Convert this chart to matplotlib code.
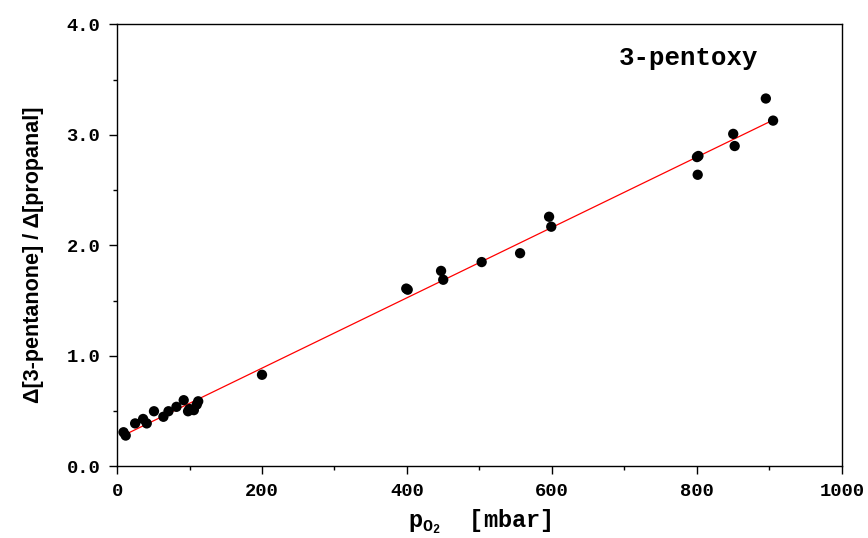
import matplotlib.pyplot as plt
from matplotlib.ticker import MultipleLocator, FormatStrFormatter

plt.rcParams['mathtext.fontset'] = 'custom'
plt.rcParams['mathtext.rm'] = 'Liberation Mono'
plt.rcParams['mathtext.bf'] = 'Liberation Mono:bold'

# measured points: O2 pressure [mbar] vs product ratio
p_o2 = [9, 12, 25, 36, 41, 51, 64, 71, 82, 92, 98, 100, 106, 110, 112,
        200, 399, 401, 447, 450, 503, 556, 596, 599, 800, 802, 801,
        850, 852, 895, 905]
ratio = [0.31, 0.28, 0.39, 0.43, 0.39, 0.50, 0.45, 0.50, 0.54, 0.60, 0.50, 0.52, 0.51, 0.56, 0.59,
         0.83, 1.61, 1.60, 1.77, 1.69, 1.85, 1.93, 2.26, 2.17, 2.80, 2.81, 2.64,
         3.01, 2.90, 3.33, 3.13]

# linear fit endpoints
fit_x = [10, 905]
fit_y = [0.285, 3.135]

fig = plt.figure(figsize=(8.68, 5.38), dpi=100)
ax = fig.add_axes([0.1348, 0.1329, 0.8352, 0.8216])

ax.plot(fit_x, fit_y, color='red', lw=0.9, zorder=2)
ax.scatter(p_o2, ratio, s=55, color='black', edgecolors='none', zorder=3)

ax.set_xlim(0, 1000)
ax.set_ylim(0, 4.0)
ax.xaxis.set_major_locator(MultipleLocator(200))
ax.xaxis.set_minor_locator(MultipleLocator(100))
ax.yaxis.set_major_locator(MultipleLocator(1.0))
ax.yaxis.set_minor_locator(MultipleLocator(0.5))
ax.yaxis.set_major_formatter(FormatStrFormatter('%.1f'))

ax.tick_params(which='major', direction='out', length=6, width=1, pad=6)
ax.tick_params(which='minor', direction='out', length=3, width=1)
ax.tick_params(top=False, right=False, which='both')
for lab in ax.get_xticklabels() + ax.get_yticklabels():
    lab.set_family('Liberation Mono')
    lab.set_weight('bold')
    lab.set_fontsize(13.5)
for sp in ax.spines.values():
    sp.set_linewidth(1)

ax.set_xlabel(r'$\mathbf{p}_{\mathbf{O_2}}$  [mbar]', family='Liberation Mono',
              fontweight='bold', fontsize=17, labelpad=5)
ax.set_ylabel('\u0394[3-pentanone] / \u0394[propanal]', family='Liberation Sans',
              fontweight='bold', fontsize=15.5)
ax.yaxis.set_label_coords(-0.101, 0.48)

ax.text(788, 3.70, '3-pentoxy', family='Liberation Mono', fontweight='bold',
        fontsize=18.5, ha='center', va='center')

fig.savefig('out.png', dpi=100)
